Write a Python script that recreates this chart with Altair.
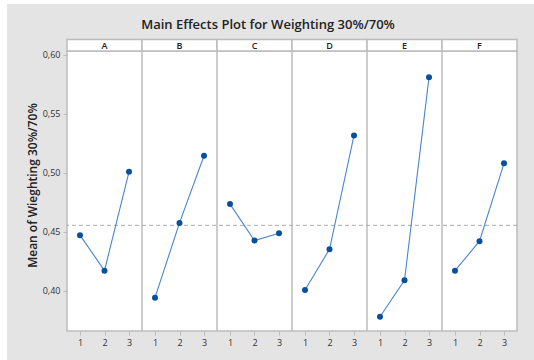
import altair as alt
import pandas as pd

# Factor names and their three levels
factors = ["A", "B", "C", "D", "E", "F"]
levels = [1, 2, 3]

# Mean response at each level of each factor
means_A = [0.4472, 0.4172, 0.5008]
means_B = [0.3943, 0.4576, 0.5144]
means_C = [0.4735, 0.4426, 0.4489]
means_D = [0.4008, 0.4353, 0.5316]
means_E = [0.3782, 0.4091, 0.5808]
means_F = [0.4172, 0.4421, 0.5080]

y_ticks = [0.40, 0.45, 0.50, 0.55, 0.60]

all_means = [means_A, means_B, means_C, means_D, means_E, means_F]

# Each panel occupies PANEL units on a shared x scale; levels sit at 1, 2, 3 inside it
PANEL = 3.06
LO = 0.47

rows = []
for i, (f, vals) in enumerate(zip(factors, all_means)):
    for lvl, v in zip(levels, vals):
        rows.append({"factor": f, "level": lvl, "pos": i * PANEL + lvl, "mean": v})
df = pd.DataFrame(rows)

panels = pd.DataFrame({
    "factor": factors,
    "start": [i * PANEL + LO for i in range(len(factors))],
    "end": [(i + 1) * PANEL + LO for i in range(len(factors))],
})
panels["mid"] = (panels["start"] + panels["end"]) / 2
bounds = pd.DataFrame({"b": [i * PANEL + LO for i in range(1, len(factors))]})

tick_pos = [round(i * PANEL + l, 2) for i in range(len(factors)) for l in levels]

W, H = 450, 280
GREY_BG = "#e4e4e4"
FRAME = "#bcbcbc"
FONT = "Open Sans"

xscale = alt.Scale(domain=[LO, len(factors) * PANEL + LO], nice=False, zero=False)
yscale = alt.Scale(domain=[0.3661, 0.6031], nice=False, zero=False)

x_axis = alt.Axis(
    values=tick_pos, labelExpr="round(datum.value % 3.06)", title=None,
    domain=False, grid=False, ticks=True, tickSize=4, tickColor=FRAME,
    labelFont=FONT, labelFontSize=9, labelColor="#333333", labelPadding=3,
    labelOverlap=False, labelBound=False, labelFlush=False, zindex=1,
)
y_axis = alt.Axis(
    values=y_ticks, labelExpr="replace(format(datum.value, '.2f'), '.', ',')",
    title="Mean of Wieghting 30%/70%", titleFont=FONT, titleFontSize=12,
    titleFontWeight=600, titleColor="#222222", titlePadding=3, titleY=134,
    domain=False, grid=False, tickSize=4, tickColor=FRAME,
    labelFont=FONT, labelFontSize=9, labelColor="#333333", labelPadding=3,
    labelOverlap=False, zindex=1,
)

one = pd.DataFrame({"k": [0]})

# Grey page behind everything, then the white plotting area with its frame
bg = alt.Chart(one).mark_rect(fill=GREY_BG, stroke=None).encode(
    x=alt.value(-60), x2=alt.value(467), y=alt.value(-47), y2=alt.value(309)
)
plot_area = alt.Chart(one).mark_rect(fill="white", stroke=FRAME, strokeWidth=1.5).encode(
    x=alt.value(0), x2=alt.value("width"), y=alt.value(0), y2=alt.value("height")
)

# Strip headers above each panel
strips = alt.Chart(panels).mark_rect(fill="white", stroke=FRAME, strokeWidth=1.5).encode(
    x=alt.X("start:Q", scale=xscale, axis=x_axis), x2="end:Q",
    y=alt.value(-11.5), y2=alt.value(0),
)
strip_text = alt.Chart(panels).mark_text(
    font=FONT, fontSize=9, fontWeight=600, color="#222222", baseline="middle"
).encode(x=alt.X("mid:Q", scale=xscale, axis=x_axis), y=alt.value(-5.5), text="factor:N")

separators = alt.Chart(bounds).mark_rule(color=FRAME, strokeWidth=1.5).encode(
    x=alt.X("b:Q", scale=xscale, axis=x_axis)
)

grand_mean = alt.Chart(df).transform_aggregate(gm="mean(mean)").mark_rule(
    color="#aaaaaa", strokeDash=[4, 3], strokeWidth=1
).encode(y=alt.Y("gm:Q", scale=yscale, axis=y_axis))

lines = alt.Chart(df).mark_line(color="#4a86cc", strokeWidth=1.1).encode(
    x=alt.X("pos:Q", scale=xscale, axis=x_axis),
    y=alt.Y("mean:Q", scale=yscale, axis=y_axis),
    detail="factor:N",
)
points = alt.Chart(df).mark_point(filled=True, shape="circle", size=36, color="#0a4f9e", opacity=1).encode(
    x=alt.X("pos:Q", scale=xscale, axis=x_axis), y=alt.Y("mean:Q", scale=yscale, axis=y_axis)
)

title = alt.Chart(one).mark_text(
    text="Main Effects Plot for Weighting 30%/70%", font=FONT, fontSize=13,
    fontWeight=600, color="#222222", align="center", baseline="middle"
).encode(x=alt.value(201), y=alt.value(-26))

chart = alt.layer(
    bg, plot_area, strips, strip_text, separators, grand_mean, lines, points, title
).properties(
    width=W, height=H,
    padding={"left": 7, "top": 4, "right": 0, "bottom": 0},
    background="white",
).configure_view(stroke=None).configure_axis(labelOverlap=False)

chart.save("out.html", embed_options={"renderer": "svg", "actions": False})
